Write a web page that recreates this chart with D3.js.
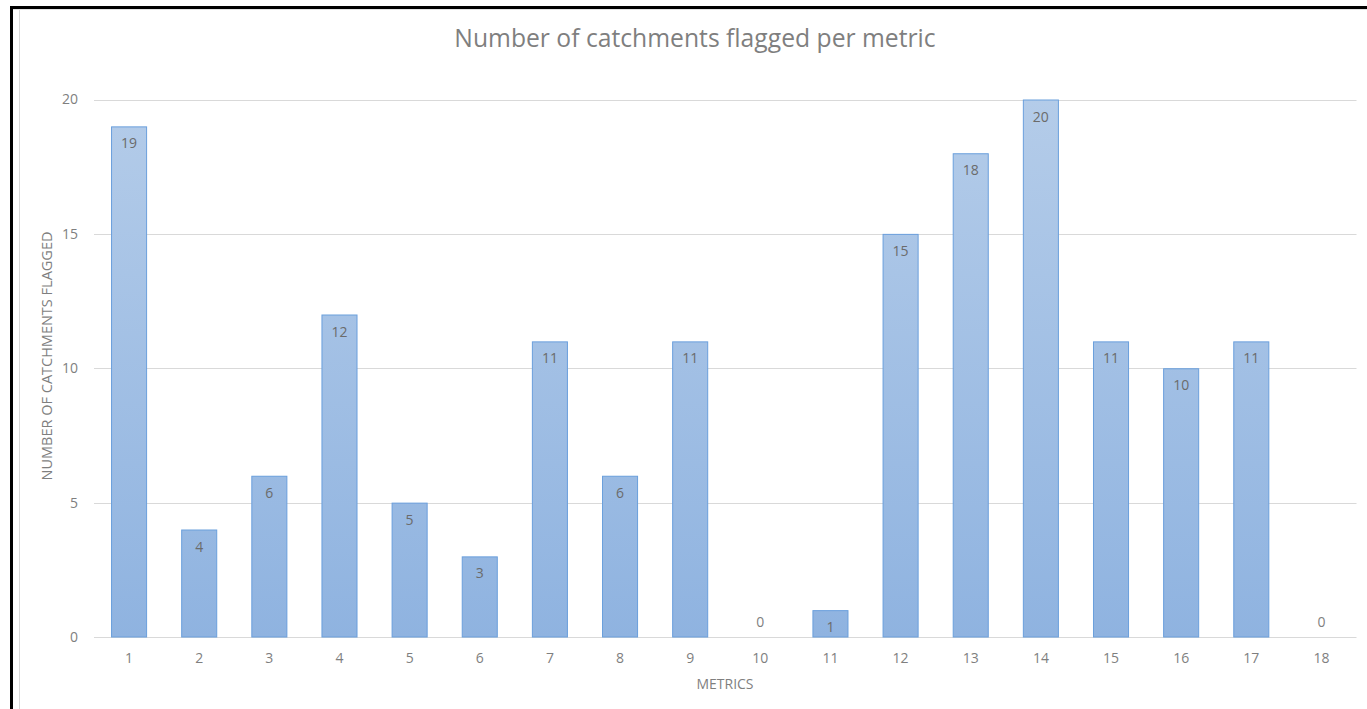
<!DOCTYPE html>
<html>
<head>
<meta charset="utf-8">
<script src="https://cdn.jsdelivr.net/npm/d3@7"></script>
<style>
  html, body { margin: 0; padding: 0; background: #fff; overflow: hidden; }
  svg { display: block; }
  text { font-family: "Open Sans", "Liberation Sans", sans-serif; }
</style>
</head>
<body>
<svg id="chart" width="1367" height="709"></svg>
<script>
const categories = ["1","2","3","4","5","6","7","8","9","10","11","12","13","14","15","16","17","18"];
const values = [19, 4, 6, 12, 5, 3, 11, 6, 11, 0, 1, 15, 18, 20, 11, 10, 11, 0];
const yTicks = [0, 5, 10, 15, 20];
const titleText = "Number of catchments flagged per metric";
const xTitle = "METRICS";
const yTitle = "NUMBER OF CATCHMENTS  FLAGGED";

const svg = d3.select("#chart");
const W = 1367, H = 709;

svg.append("rect").attr("x", 0).attr("y", 0).attr("width", W).attr("height", H).attr("fill", "#fff");
svg.append("rect").attr("x", 10).attr("y", 6).attr("width", W - 10).attr("height", 3).attr("fill", "#000");
svg.append("rect").attr("x", 10).attr("y", 6).attr("width", 3).attr("height", H - 6).attr("fill", "#000");
svg.append("line").attr("x1", 19.5).attr("x2", 19.5).attr("y1", 9).attr("y2", H).attr("stroke", "#d9d9d9");
svg.append("line").attr("x1", 13).attr("x2", W).attr("y1", 9.5).attr("y2", 9.5).attr("stroke", "#e3e3e3");

const plot = { left: 94, right: 1356.5, top: 99.5, bottom: 637 };

const x = d3.scaleBand().domain(categories).range([plot.left, plot.right])
  .paddingInner(0.486).paddingOuter(0.243);
const y = d3.scaleLinear().domain([0, 20]).range([plot.bottom, plot.top]);

const defs = svg.append("defs");
const grad = defs.append("linearGradient").attr("id", "barGrad")
  .attr("gradientUnits", "userSpaceOnUse")
  .attr("x1", 0).attr("x2", 0).attr("y1", plot.top).attr("y2", plot.bottom);
grad.append("stop").attr("offset", "0%").attr("stop-color", "#b4cce9");
grad.append("stop").attr("offset", "100%").attr("stop-color", "#8fb3e0");

svg.append("g").selectAll("line").data(yTicks).join("line")
  .attr("x1", plot.left).attr("x2", plot.right)
  .attr("y1", d => Math.round(y(d)) + 0.5).attr("y2", d => Math.round(y(d)) + 0.5)
  .attr("stroke", "#d9d9d9").attr("stroke-width", 1);

const yAxis = d3.axisLeft(y).tickValues(yTicks).tickSize(0).tickPadding(16);
const gy = svg.append("g").attr("transform", `translate(${plot.left},0)`).call(yAxis);
gy.select(".domain").remove();
gy.selectAll("text").attr("fill", "#7f7f7f").style("font-size", "14px")
  .style("font-family", '"Open Sans", sans-serif');

const xAxis = d3.axisBottom(x).tickSize(0).tickPadding(16);
const gx = svg.append("g").attr("transform", `translate(0,${plot.bottom})`).call(xAxis);
gx.select(".domain").remove();
gx.selectAll("text").attr("fill", "#7f7f7f").style("font-size", "14px")
  .style("font-family", '"Open Sans", sans-serif');

svg.append("g").selectAll("rect").data(values).join("rect")
  .attr("x", (d, i) => x(categories[i]) + 0.5)
  .attr("y", d => y(d) + 0.5)
  .attr("width", x.bandwidth() - 1)
  .attr("height", d => Math.max(0, y(0) - y(d) - 0.5))
  .attr("fill", "url(#barGrad)")
  .attr("stroke", d => d > 0 ? "#6a9fdc" : "none")
  .attr("stroke-width", 1);

svg.append("g").selectAll("text").data(values).join("text")
  .attr("x", (d, i) => x(categories[i]) + x.bandwidth() / 2)
  .attr("y", d => d > 0 ? y(d) + 22 : y(0) - 10)
  .attr("text-anchor", "middle")
  .attr("fill", d => d > 0 ? "#6b6b6b" : "#7f7f7f")
  .style("font-size", "14px")
  .text(d => d);

svg.append("text").attr("x", 695).attr("y", 47).attr("text-anchor", "middle")
  .attr("fill", "#7f7f7f").style("font-size", "24.7px").text(titleText);

svg.append("text").attr("x", 725).attr("y", 689).attr("text-anchor", "middle")
  .attr("fill", "#7f7f7f").style("font-size", "14px").text(xTitle);
svg.append("text").attr("transform", `translate(52,356) rotate(-90)`).attr("text-anchor", "middle")
  .attr("fill", "#7f7f7f").style("font-size", "14.5px").text(yTitle);
</script>
</body>
</html>
